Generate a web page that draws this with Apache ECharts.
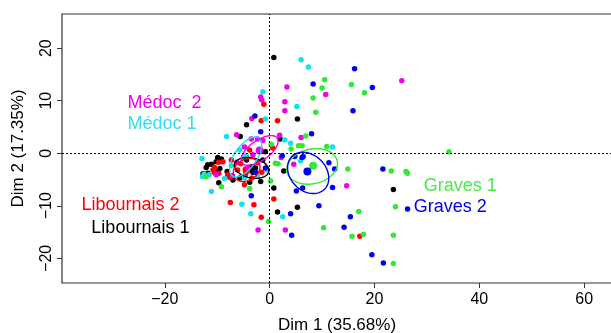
<!DOCTYPE html>
<html>
<head>
<meta charset="utf-8">
<script src="https://cdn.jsdelivr.net/npm/echarts@6/dist/echarts.min.js"></script>
<style>
  html, body { margin: 0; padding: 0; background: #fff; }
  #chart { width: 611px; height: 333px; }
</style>
</head>
<body>
<div id="chart"></div>
<script>
// individuals per group, [dim1, dim2]
const libournais1 = [
  [0.8, 18.2], [-4.4, 5.4], [5.3, 6.5], [-5.6, 3.2], [2.0, 2.7], [23.6, -6.9],
  [0.8, -6.6], [5.3, -10.3], [1.5, -11.2], [2.7, -3.4], [-9.9, -0.8], [-9.2, -1.1],
  [-10.2, -1.6], [-11.8, -2.2], [-11.1, -2.1], [-12.1, -2.7], [-9.5, -2.9], [-9.9, -3.4],
  [-12.7, -3.9], [-11.8, -3.8], [-8.1, -3.5], [-7.0, -5.1], [-9.7, -5.6], [-3.8, -5.5],
  [-1.7, -5.4], [-0.8, 0.3], [-4.4, -1.3], [-2.7, -2.8], [-1.3, -1.3], [-3.2, -3.6],
  [-5.7, -4.7]
]
const libournais2 = [
  [-1.1, 9.3], [-1.6, 6.2], [1.5, 6.2], [0.6, 1.0], [0.8, -8.7], [-1.6, -12.2],
  [-7.5, -9.4], [-3.0, -9.8], [17.2, -15.8], [-9.7, -1.7], [-8.9, -1.6], [-10.8, -3.2],
  [-10.5, -2.7], [-10.5, -3.7], [-9.7, -3.8], [-8.0, -4.1], [-7.6, -4.6], [-3.8, 0.6],
  [-5.5, -2.0], [-6.1, -3.2], [-4.6, -4.1], [-3.4, -4.7], [-2.3, -1.8], [-4.8, -6.0],
  [-1.5, -3.6], [-7.3, -1.3]
]
const medoc1 = [
  [6.0, 17.8], [7.4, 16.4], [-1.3, 11.7], [5.2, 8.9], [-0.8, 6.5], [-8.2, 3.2],
  [2.9, 2.5], [4.0, 1.9], [12.0, 1.2], [5.9, -1.5], [-12.9, -1.0], [-12.5, -4.0],
  [-11.5, -4.1], [-12.8, -4.5], [-8.6, -4.8], [-11.1, -7.3], [-5.3, -9.7], [-3.6, -11.5],
  [2.5, -12.1], [-5.7, 0.6], [-7.3, -2.4], [-2.3, -4.3], [-4.8, -4.7], [-0.4, -3.2]
]
const medoc2 = [
  [3.3, 12.6], [-1.7, 10.7], [-1.5, 10.2], [2.9, 9.8], [2.9, 8.1], [-3.4, 6.6],
  [-6.3, 3.5], [1.9, 3.4], [6.0, 3.0], [25.2, 13.8], [10.7, 11.2], [14.7, -6.2],
  [-2.2, -14.6], [3.0, -14.6], [2.2, -0.8], [4.6, -2.1], [-10.2, -4.1], [-3.5, 2.7],
  [-2.3, 2.7], [-1.3, 2.4], [-4.8, 1.2], [-3.2, -0.3], [-6.3, -1.7], [-4.2, -2.8],
  [-7.1, -4.3]
]
const graves1 = [
  [8.3, 10.5], [8.8, 7.8], [6.9, 3.3], [5.5, 1.4], [6.2, 1.4], [10.5, 14.0],
  [10.0, 12.4], [15.6, 13.1], [18.1, 11.5], [10.9, 1.3], [34.2, 0.3], [14.9, -3.0],
  [23.2, -3.4], [26.0, -3.5], [26.3, -3.8], [17.0, -11.1], [24.0, -10.2], [10.3, -14.2],
  [15.7, -15.8], [17.9, -15.4], [23.6, -15.6], [23.6, -21.0], [0.2, -5.3], [-0.2, -13.0],
  [-9.2, -6.4], [-3.8, -6.7], [0.3, 1.7], [4.1, 0.8], [1.1, -1.9], [1.6, -2.0],
  [-12.1, -4.5]
]
const graves2 = [
  [8.3, 13.2], [-2.8, 7.1], [-1.7, 4.1], [8.0, 3.7], [16.2, 16.1], [19.6, 12.5],
  [15.9, 8.1], [6.2, -0.8], [11.3, -1.8], [12.4, -3.0], [21.6, -3.0], [6.3, -6.6],
  [12.0, -6.5], [9.4, -10.0], [15.4, -12.1], [26.3, -10.6], [14.2, -14.1], [19.5, -19.3],
  [21.7, -20.9], [5.1, -7.2], [4.0, -11.5], [4.2, -15.6], [-3.5, -8.1], [2.4, -0.5],
  [4.8, -0.6], [6.4, -0.6], [-2.7, -3.6], [-0.8, -2.8]
]

// group means and confidence ellipses: [cx, cy, semiMajor, semiMinor, angleDeg]
const groupNames = ['Libournais 1', 'Libournais 2', 'Médoc 1', 'Médoc  2', 'Graves 1', 'Graves 2']
const groupMeans = [[-3.4, -2.8], [-4.4, -3.2], [-4.6, -0.7], [-1.9, 0.5], [8.3, -2.4], [7.2, -3.5]]
const ellipses = [
  [-3.44, -2.8, 3.35, 1.9, -12],
  [-4.39, -3.18, 2.7, 2.0, 30],
  [-4.58, -0.7, 4.4, 2.1, 55],
  [-1.91, 0.53, 4.1, 1.9, 35],
  [8.11, -2.51, 4.9, 3.3, 12],
  [7.35, -3.75, 4.4, 3.4, -45]
]
const labelPos = [[-34.0, -14.2], [-35.9, -9.85], [-27.1, 5.6], [-27.1, 9.6], [29.4, -6.2], [27.5, -10.3]]

const xTicks = [-20, 0, 20, 40, 60]
const yTicks = [-20, -10, 0, 10, 20]

const colors = ['#000000', '#ff0000', '#12e2f0', '#f000f0', '#33ea33', '#0000f0']
const textColors = ['#000000', '#ff0000', '#30e0f0', '#f000f0', '#44ee44', '#0000ee']
const font = '"Liberation Sans", Arial, Helvetica, sans-serif'

const minus = v => (v < 0 ? '\u2212' + Math.abs(v) : String(v))

function pointSeries() {
  const groups = [libournais1, libournais2, medoc1, medoc2, graves1, graves2]
  return groups.map((data, i) => ({
    name: groupNames[i],
    type: 'scatter',
    symbolSize: 5.5,
    itemStyle: { color: colors[i], opacity: 1 },
    data: data,
    z: 3
  }))
}

function ellipseSeries() {
  return {
    type: 'custom',
    data: ellipses,
    encode: { x: 0, y: 1 },
    z: 4,
    renderItem(params, api) {
      const e = ellipses[params.dataIndex]
      const rad = e[4] * Math.PI / 180
      const pts = []
      for (let k = 0; k <= 72; k++) {
        const t = k / 72 * Math.PI * 2
        const dx = e[2] * Math.cos(t)
        const dy = e[3] * Math.sin(t)
        pts.push(api.coord([
          e[0] + dx * Math.cos(rad) - dy * Math.sin(rad),
          e[1] + dx * Math.sin(rad) + dy * Math.cos(rad)
        ]))
      }
      return {
        type: 'polyline',
        shape: { points: pts },
        style: { stroke: colors[params.dataIndex], fill: null, lineWidth: 1.4 }
      }
    }
  }
}

function meanSeries() {
  return {
    type: 'scatter',
    symbolSize: 8,
    z: 2,
    itemStyle: { opacity: 1 },
    data: groupMeans.map((m, i) => ({ value: m, itemStyle: { color: colors[i], opacity: 1 } }))
  }
}

function labelSeries() {
  return {
    type: 'scatter',
    symbolSize: 0,
    z: 6,
    itemStyle: { opacity: 1 },
    data: labelPos.map((p, i) => ({
      value: p,
      label: { color: textColors[i] }
    })),
    label: {
      show: true,
      position: 'right',
      distance: 0,
      fontSize: 18,
      opacity: 1,
      fontFamily: font,
      formatter: p => groupNames[p.dataIndex]
    }
  }
}

function zeroLines() {
  return {
    type: 'scatter',
    data: [],
    markLine: {
      silent: true,
      symbol: 'none',
      animation: false,
      label: { show: false },
      lineStyle: { color: '#000', type: [2, 2], width: 1, opacity: 1 },
      data: [{ xAxis: 0 }, { yAxis: 0 }]
    }
  }
}

const chart = echarts.init(document.getElementById('chart'))

const option = {
  animation: false,
  textStyle: { fontFamily: font },
  grid: {
    left: 62,
    top: 14,
    right: -1,
    bottom: 50,
    outerBoundsMode: 'none',
    containLabel: false,
    show: true,
    borderColor: '#333',
    borderWidth: 1.2
  },
  xAxis: {
    type: 'value',
    min: -39.6,
    max: 65.3,
    name: 'Dim 1 (35.68%)',
    nameLocation: 'middle',
    nameGap: 34,
    nameTextStyle: { fontSize: 17, color: '#000', fontFamily: font },
    splitLine: { show: false },
    axisLine: { show: false, onZero: false },
    axisTick: { show: true, inside: false, length: 5, customValues: xTicks, lineStyle: { color: '#333' } },
    axisLabel: { customValues: xTicks, fontSize: 16, color: '#000', margin: 9, formatter: minus }
  },
  yAxis: {
    type: 'value',
    min: -24.7,
    max: 26.5,
    name: 'Dim 2 (17.35%)',
    nameLocation: 'middle',
    nameGap: 35,
    nameRotate: 90,
    nameTextStyle: { fontSize: 17, color: '#000', fontFamily: font },
    splitLine: { show: false },
    axisLine: { show: false, onZero: false },
    axisTick: { show: true, inside: false, length: 5, customValues: yTicks, lineStyle: { color: '#333' } },
    axisLabel: { customValues: yTicks, fontSize: 16, color: '#000', margin: 7, rotate: 90, formatter: minus }
  },
  series: [zeroLines(), ...pointSeries(), ellipseSeries(), meanSeries(), labelSeries()]
}

chart.setOption(option)
</script>
</body>
</html>
